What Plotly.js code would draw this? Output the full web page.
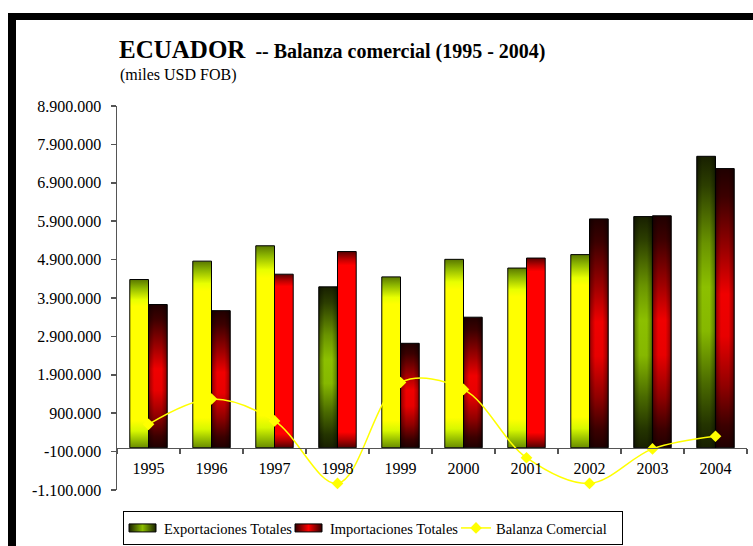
<!DOCTYPE html>
<html>
<head>
<meta charset="utf-8">
<script src="https://cdn.plot.ly/plotly-3.0.1.min.js"></script>
<style>
html,body{margin:0;padding:0;background:#fff;}
#chart{width:753px;height:546px;}
</style>
</head>
<body>
<svg width="0" height="0" style="position:absolute">
<defs>
  <linearGradient id="gExpBright" x1="0" y1="0" x2="0" y2="1">
    <stop offset="0" stop-color="#5a7800"/>
    <stop offset="0.05" stop-color="#8fb800"/>
    <stop offset="0.12" stop-color="#e8ff00"/>
    <stop offset="0.16" stop-color="#ffff00"/>
    <stop offset="0.84" stop-color="#ffff00"/>
    <stop offset="0.9" stop-color="#d8f800"/>
    <stop offset="0.95" stop-color="#9cc400"/>
    <stop offset="1" stop-color="#6a8c00"/>
  </linearGradient>
  <linearGradient id="gExpDark" x1="0" y1="0" x2="0" y2="1">
    <stop offset="0" stop-color="#182000"/>
    <stop offset="0.1" stop-color="#2c3e00"/>
    <stop offset="0.3" stop-color="#6a9400"/>
    <stop offset="0.45" stop-color="#8cc000"/>
    <stop offset="0.6" stop-color="#86b800"/>
    <stop offset="0.78" stop-color="#4a6a00"/>
    <stop offset="0.92" stop-color="#243400"/>
    <stop offset="1" stop-color="#182000"/>
  </linearGradient>
  <linearGradient id="gImpBright" x1="0" y1="0" x2="0" y2="1">
    <stop offset="0" stop-color="#580000"/>
    <stop offset="0.04" stop-color="#c00000"/>
    <stop offset="0.07" stop-color="#ff0000"/>
    <stop offset="0.92" stop-color="#ff0000"/>
    <stop offset="0.96" stop-color="#b00000"/>
    <stop offset="1" stop-color="#500000"/>
  </linearGradient>
  <linearGradient id="gImpDark" x1="0" y1="0" x2="0" y2="1">
    <stop offset="0" stop-color="#200000"/>
    <stop offset="0.1" stop-color="#3c0000"/>
    <stop offset="0.3" stop-color="#a00000"/>
    <stop offset="0.45" stop-color="#f00000"/>
    <stop offset="0.6" stop-color="#e80000"/>
    <stop offset="0.78" stop-color="#900000"/>
    <stop offset="0.92" stop-color="#3c0000"/>
    <stop offset="1" stop-color="#200000"/>
  </linearGradient>
  <linearGradient id="gSide" x1="0" y1="0" x2="1" y2="0">
    <stop offset="0" stop-color="#000" stop-opacity="0.55"/>
    <stop offset="0.1" stop-color="#000" stop-opacity="0.25"/>
    <stop offset="0.3" stop-color="#000" stop-opacity="0"/>
    <stop offset="0.7" stop-color="#000" stop-opacity="0"/>
    <stop offset="0.9" stop-color="#000" stop-opacity="0.25"/>
    <stop offset="1" stop-color="#000" stop-opacity="0.55"/>
  </linearGradient>
  <linearGradient id="gLegExp" x1="0" y1="0" x2="1" y2="0">
    <stop offset="0" stop-color="#1a2200"/>
    <stop offset="0.5" stop-color="#8cbf00"/>
    <stop offset="1" stop-color="#1a2200"/>
  </linearGradient>
  <linearGradient id="gLegImp" x1="0" y1="0" x2="1" y2="0">
    <stop offset="0" stop-color="#300000"/>
    <stop offset="0.5" stop-color="#ff0000"/>
    <stop offset="1" stop-color="#300000"/>
  </linearGradient>
</defs>
</svg>
<div id="chart"></div>
<script>
// ---- data (miles USD FOB) ----
const years = ['1995','1996','1997','1998','1999','2000','2001','2002','2003','2004'];
const exportaciones = [4381000, 4860000, 5260000, 4190000, 4450000, 4907000, 4680000, 5030000, 6020000, 7590000];
const importaciones = [3730000, 3570000, 4520000, 5110000, 2720000, 3400000, 4940000, 5960000, 6040000, 7270000];
const balanza = [610000, 1270000, 700000, -930000, 1700000, 1520000, -260000, -930000, -30000, 300000];
const yTickVals = [-1100000, -100000, 900000, 1900000, 2900000, 3900000, 4900000, 5900000, 6900000, 7900000, 8900000];
const yTickLabels = ['-1.100.000','-100.000','900.000','1.900.000','2.900.000','3.900.000','4.900.000','5.900.000','6.900.000','7.900.000','8.900.000'];

// ---- styles ----
const exportShade = ['bright','bright','bright','dark','bright','bright','bright','bright','dark','dark'];
const importShade = ['dark','dark','bright','bright','dark','dark','bright','dark','dark','dark'];
const baseColor = {exp:{bright:'#ffff00', dark:'#6b8f00'}, imp:{bright:'#ff0000', dark:'#8b0000'}};
const yRange = [-1100000, 8900000];
const zeroFrac = (0 - yRange[0]) / (yRange[1] - yRange[0]);

// plot-area pixel box, used for frame decoration placement
const PL = 117, PR = 747, PT = 106, PB = 490;
const px2x = px => (px - PL) / (PR - PL);
const py2y = py => (PB - py) / (PB - PT);

const FONT = '"Liberation Serif", "Times New Roman", serif';

const data = [
  {
    type: 'bar', name: 'Exportaciones Totales', x: years, y: exportaciones,
    marker: {color: exportShade.map(s => baseColor.exp[s]), line: {color: '#000', width: 1}}
  },
  {
    type: 'bar', name: 'Importaciones Totales', x: years, y: importaciones,
    marker: {color: importShade.map(s => baseColor.imp[s]), line: {color: '#000', width: 1}}
  },
  {
    type: 'scatter', mode: 'lines+markers', name: 'Balanza Comercial', x: years, y: balanza,
    line: {color: '#ffff00', width: 1.5, shape: 'spline', smoothing: 1},
    marker: {symbol: 'diamond', size: 9, color: '#ffff00'}
  }
];

const layout = {
  width: 753, height: 546,
  margin: {l: PL, r: 753 - PR, t: PT, b: 546 - PB, pad: 0, autoexpand: false},
  paper_bgcolor: '#ffffff', plot_bgcolor: '#ffffff',
  font: {family: FONT, size: 16, color: '#000'},
  separators: ',.',
  barmode: 'group', bargap: 0.406, bargroupgap: 0,
  showlegend: true,
  title: {
    text: '<b><span style="font-size:25px">ECUADOR</span>  -- Balanza comercial (1995 - 2004)</b>',
    font: {family: FONT, size: 20, color: '#000'},
    xref: 'container', x: 119 / 753, xanchor: 'left',
    yref: 'container', y: 1 - 51 / 546, yanchor: 'middle'
  },
  annotations: [{
    text: '(miles USD FOB)', xref: 'paper', yref: 'paper',
    x: px2x(118), xanchor: 'left', y: py2y(75), yanchor: 'middle',
    showarrow: false, font: {family: FONT, size: 16, color: '#000'}
  }],
  legend: {
    orientation: 'h', x: px2x(123), xanchor: 'left', y: py2y(528), yanchor: 'middle',
    bordercolor: '#000', borderwidth: 1, bgcolor: '#fff',
    font: {family: FONT, size: 14.5, color: '#000'}, itemwidth: 30, traceorder: 'normal',
    entrywidth: 121, entrywidthmode: 'pixels'
  },
  xaxis: {
    type: 'category', range: [-0.5, 9.5], anchor: 'free', position: zeroFrac,
    showline: true, linecolor: '#555', linewidth: 1.5,
    ticks: 'outside', ticklen: 5, tickwidth: 1.5, tickcolor: '#555', tickson: 'boundaries',
    showgrid: false, zeroline: false, ticklabelstandoff: 6,
    tickfont: {family: FONT, size: 16, color: '#000'}
  },
  xaxis2: {
    type: 'linear', range: [-0.5, 9.5], overlaying: 'x', anchor: 'free', position: zeroFrac,
    tick0: -0.5, dtick: 1, ticks: 'inside', ticklen: 5, tickwidth: 1.5, tickcolor: '#555',
    showticklabels: false, showline: false, showgrid: false, zeroline: false
  },
  yaxis: {
    range: yRange, tickvals: yTickVals, ticktext: yTickLabels,
    showline: true, linecolor: '#555', linewidth: 1.5,
    ticks: 'outside', ticklen: 5, tickwidth: 1.5, tickcolor: '#555',
    showgrid: false, zeroline: false, ticklabelstandoff: 6,
    tickfont: {family: FONT, size: 16, color: '#000'}
  },
  yaxis2: {
    range: yRange, tickvals: yTickVals, overlaying: 'y', side: 'left', anchor: 'x',
    ticks: 'inside', ticklen: 5, tickwidth: 1.5, tickcolor: '#555',
    showticklabels: false, showline: false, showgrid: false, zeroline: false
  },
  shapes: [
    {type: 'rect', xref: 'paper', yref: 'paper', x0: px2x(8), x1: px2x(16), y0: py2y(546), y1: py2y(13),
     fillcolor: '#000', line: {width: 0}, layer: 'above'},
    {type: 'rect', xref: 'paper', yref: 'paper', x0: px2x(8), x1: px2x(753), y0: py2y(20), y1: py2y(13),
     fillcolor: '#000', line: {width: 0}, layer: 'above'}
  ]
};

Plotly.newPlot('chart', data, layout, {staticPlot: true, displayModeBar: false}).then(gd => {
  const shades = [exportShade, importShade];
  const ids = [{bright: 'gExpBright', dark: 'gExpDark'}, {bright: 'gImpBright', dark: 'gImpDark'}];
  gd.querySelectorAll('.barlayer .trace').forEach((tr, t) => {
    tr.querySelectorAll('.point').forEach((pt, i) => {
      const path = pt.querySelector('path');
      if (!path) return;
      const s = shades[t][i];
      path.style.fill = 'url(#' + ids[t][s] + ')';
      if (s === 'dark') {
        const c = path.cloneNode(true);
        c.style.fill = 'url(#gSide)';
        c.style.stroke = 'none';
        pt.appendChild(c);
      }
    });
  });
  const legIds = ['gLegExp', 'gLegImp'];
  gd.querySelectorAll('.legend .traces').forEach((tr, t) => {
    if (t > 1) return;
    tr.querySelectorAll('.legendpoints path').forEach(p => {
      p.style.fill = 'url(#' + legIds[t] + ')';
      p.style.stroke = '#000';
      p.style.strokeWidth = '1px';
      p.setAttribute('d', 'M12,4H-15V-4H12Z');
    });
  });
});
</script>
</body>
</html>
